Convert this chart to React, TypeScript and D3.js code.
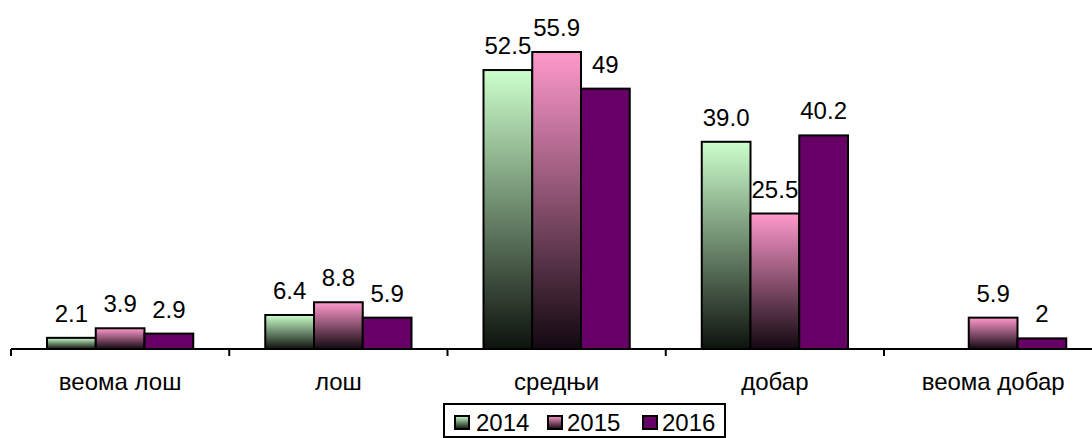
import React from "react";
import * as d3 from "d3";

const categories = ["веома лош", "лош", "средњи", "добар", "веома добар"];
const seriesNames = ["2014", "2015", "2016"];
const values2014: (number | null)[] = [2.1, 6.4, 52.5, 39.0, null];
const values2015: (number | null)[] = [3.9, 8.8, 55.9, 25.5, 5.9];
const values2016: (number | null)[] = [2.9, 5.9, 49, 40.2, 2];
const labels2014 = ["2.1", "6.4", "52.5", "39.0", ""];
const labels2015 = ["3.9", "8.8", "55.9", "25.5", "5.9"];
const labels2016 = ["2.9", "5.9", "49", "40.2", "2"];

const W = 1092;
const H = 438;
const FONT = "'Liberation Sans', Arial, sans-serif";
const FS = 24;

export default function App() {
  const series = [values2014, values2015, values2016];
  const labels = [labels2014, labels2015, labels2016];
  const axisY = 349;
  const left = 11;
  const catW = 218.25;
  const x0 = d3
    .scaleBand<string>()
    .domain(categories)
    .range([left, left + catW * categories.length])
    .paddingInner(0)
    .paddingOuter(0);
  const groupPad = 36;
  const x1 = d3
    .scaleBand<string>()
    .domain(seriesNames)
    .range([groupPad, catW - groupPad]);
  const y = d3.scaleLinear().domain([0, 60]).range([axisY, 30.2]);

  const fills = ["url(#g2014)", "url(#g2015)", "#660066"];

  const ticks = d3.range(categories.length + 1).map((i) => left + i * catW);

  const legendX = 444;
  const legendY = 404;
  const legendItems = [
    { sx: 455, tx: 476 },
    { sx: 548, tx: 567 },
    { sx: 643, tx: 662 },
  ];

  return (
    <svg
      width={W}
      height={H}
      style={{ position: "absolute", left: 0, top: 0, background: "#fff" }}
    >
      <defs>
        <linearGradient id="g2014" x1="0" y1="0" x2="0" y2="1">
          <stop offset="0" stopColor="#CCFFCC" />
          <stop offset="1" stopColor="#0d120d" />
        </linearGradient>
        <linearGradient id="g2015" x1="0" y1="0" x2="0" y2="1">
          <stop offset="0" stopColor="#FF99CC" />
          <stop offset="1" stopColor="#120810" />
        </linearGradient>
      </defs>
      <rect x={0} y={0} width={W} height={H} fill="#fff" />
      {categories.map((c, ci) =>
        series.map((s, si) => {
          const v = s[ci];
          if (v == null) return null;
          const bx = (x0(c) as number) + (x1(seriesNames[si]) as number);
          const bw = x1.bandwidth();
          const top = y(v);
          return (
            <g key={`${ci}-${si}`}>
              <rect
                x={bx}
                y={top}
                width={bw}
                height={axisY - top}
                fill={fills[si]}
                stroke="#000"
                strokeWidth={2}
              />
              <text
                x={bx + bw / 2}
                y={top - 16}
                textAnchor="middle"
                fontFamily={FONT}
                fontSize={FS}
                fill="#000"
              >
                {labels[si][ci]}
              </text>
            </g>
          );
        })
      )}
      <line x1={left} x2={W} y1={axisY} y2={axisY} stroke="#000" strokeWidth={2} />
      {ticks.map((t, i) => (
        <line key={i} x1={t} x2={t} y1={axisY} y2={axisY + 7} stroke="#000" strokeWidth={2} />
      ))}
      {categories.map((c) => (
        <text
          key={c}
          x={(x0(c) as number) + catW / 2}
          y={390}
          textAnchor="middle"
          fontFamily={FONT}
          fontSize={FS}
          fill="#000"
        >
          {c}
        </text>
      ))}
      <rect
        x={legendX}
        y={legendY}
        width={281}
        height={33}
        fill="#fff"
        stroke="#000"
        strokeWidth={2}
      />
      {seriesNames.map((n, i) => (
        <g key={n}>
          <rect
            x={legendItems[i].sx}
            y={416}
            width={14}
            height={13}
            fill={fills[i]}
            stroke="#000"
            strokeWidth={2}
          />
          <text x={legendItems[i].tx} y={431} fontFamily={FONT} fontSize={FS} fill="#000">
            {n}
          </text>
        </g>
      ))}
    </svg>
  );
}
